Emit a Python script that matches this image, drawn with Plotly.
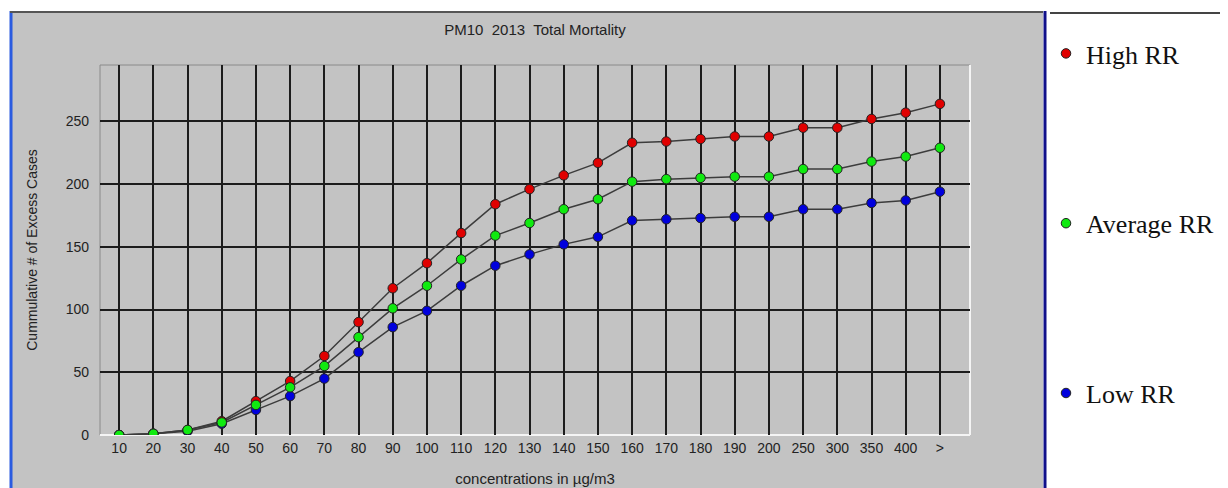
"""
PM10 2013 total mortality: cumulative excess cases by concentration bin.
"""

import plotly.graph_objects as go

concentrations = ['10', '20', '30', '40', '50', '60', '70', '80', '90', '100',
                  '110', '120', '130', '140', '150', '160', '170', '180', '190',
                  '200', '250', '300', '350', '400', '>']
high_rr = [0, 1, 4, 11, 27, 43, 63, 90, 117, 137, 161, 184, 196, 207, 217,
           233, 234, 236, 238, 238, 245, 245, 252, 257, 264]
average_rr = [0, 1, 4, 10, 24, 38, 55, 78, 101, 119, 140, 159, 169, 180, 188,
              202, 204, 205, 206, 206, 212, 212, 218, 222, 229]
low_rr = [0, 1, 3, 9, 20, 31, 45, 66, 86, 99, 119, 135, 144, 152, 158,
          171, 172, 173, 174, 174, 180, 180, 185, 187, 194]

# (name, values, colour, legend rank) - green is drawn last, as in the original
series = [
    ('High RR', high_rr, '#e00000', 1),
    ('Low RR', low_rr, '#0000dd', 3),
    ('Average RR', average_rr, '#10ea10', 2),
]

# page body adds an 8px offset, so the figure is sized to fit the window
OFF = 8
W, H = 1228 - OFF, 488 - OFF
L, T = 100 - OFF, 65 - OFF
R, B = W - (970 - OFF), H - (435 - OFF)
PW, PH = W - L - R, H - T - B

SANS = 'Liberation Sans, Arial, sans-serif'
SERIF = 'Liberation Serif, Times New Roman, serif'


def px(x):
    # screen pixel -> paper fraction
    return (x - OFF - L) / PW


def py(y):
    return (H - B - (y - OFF)) / PH


fig = go.Figure()

# grey connecting lines, then coloured markers on top
for name, vals, color, rank in series:
    fig.add_trace(go.Scatter(
        x=concentrations, y=vals, mode='lines', showlegend=False,
        line=dict(color='#3c3c3c', width=1.5), hoverinfo='skip'
    ))
for name, vals, color, rank in series:
    fig.add_trace(go.Scatter(
        x=concentrations, y=vals, mode='markers', name=name,
        legendgroup=name, legendrank=rank,
        marker=dict(color=color, size=9.5, line=dict(color='#222', width=1))
    ))

shapes = [
    # grey chart panel
    dict(type='rect', xref='paper', yref='paper', layer='below',
         x0=px(10), x1=px(1043), y0=py(12), y1=py(492),
         fillcolor='#c3c3c3', line=dict(width=0)),
    # panel borders
    dict(type='line', xref='paper', yref='paper', layer='above',
         x0=px(11), x1=px(11), y0=py(11), y1=py(492),
         line=dict(color='#2a5be0', width=3)),
    dict(type='line', xref='paper', yref='paper', layer='above',
         x0=px(10), x1=px(1043), y0=py(12), y1=py(12),
         line=dict(color='#555', width=2)),
    dict(type='line', xref='paper', yref='paper', layer='above',
         x0=px(1045), x1=px(1045), y0=py(11), y1=py(492),
         line=dict(color='#10108a', width=3)),
    dict(type='line', xref='paper', yref='paper', layer='above',
         x0=px(1050), x1=px(1230), y0=py(13), y1=py(13),
         line=dict(color='#444', width=2)),
    # plot frame: dark top/left, white bottom/right
    dict(type='line', xref='paper', yref='paper', layer='between',
         x0=0, x1=1, y0=1, y1=1, line=dict(color='#8a8a8a', width=1)),
    dict(type='line', xref='paper', yref='paper', layer='between',
         x0=0, x1=0, y0=0, y1=1, line=dict(color='#8a8a8a', width=1)),
    dict(type='line', xref='paper', yref='paper', layer='between',
         x0=0, x1=1, y0=0, y1=0, line=dict(color='#f4f4f4', width=2)),
    dict(type='line', xref='paper', yref='paper', layer='between',
         x0=1, x1=1, y0=0, y1=1, line=dict(color='#f4f4f4', width=2)),
]

fig.update_layout(
    width=W, height=H,
    margin=dict(l=L, r=R, t=T, b=B, pad=0),
    paper_bgcolor='white', plot_bgcolor='#c3c3c3',
    shapes=shapes,
    title=dict(text='PM10  2013  Total Mortality', x=0.5, xref='paper',
               xanchor='center', y=1 - (30 - OFF) / H, yref='container',
               yanchor='middle', font=dict(family=SANS, size=15, color='#222')),
    legend=dict(x=(1046 - OFF) / W, xref='container', xanchor='left',
                y=1 - (30 - OFF) / H, yref='container', yanchor='top',
                maxheight=1, bgcolor='rgba(0,0,0,0)', tracegroupgap=133,
                font=dict(family=SERIF, size=26, color='#111')),
    showlegend=True,
)
fig.update_xaxes(
    type='category', range=[-0.56, 24.88], showgrid=True, automargin=False,
    gridcolor='#1c1c1c', gridwidth=2, zeroline=False, showline=False,
    ticks='', ticklabelstandoff=3,
    tickfont=dict(family=SANS, size=14, color='#222'),
    title=dict(text='concentrations in µg/m3', standoff=18,
               font=dict(family=SANS, size=15, color='#222')),
)
fig.update_yaxes(
    range=[0, 295], dtick=50, showgrid=True, gridcolor='#1c1c1c',
    gridwidth=2, zeroline=False, showline=False, ticks='', automargin=False,
    ticklabelstandoff=10,
    tickfont=dict(family=SANS, size=14, color='#222'),
    title=dict(text='Cummulative # of Excess Cases', standoff=24,
               font=dict(family=SANS, size=14, color='#222')),
)

fig.write_html("out.html")
